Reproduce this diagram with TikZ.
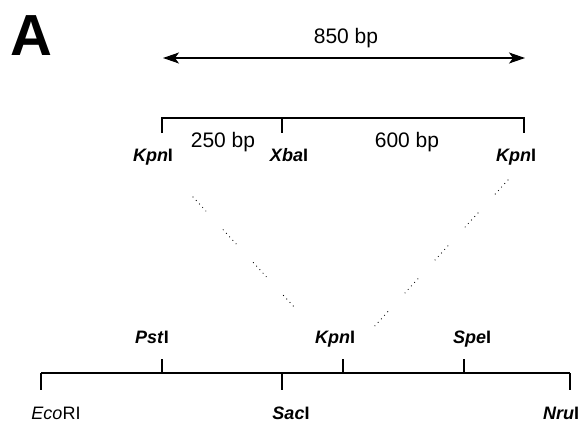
\documentclass[tikz,border=0pt]{standalone}
\usepackage{fontspec}
\setmainfont{Liberation Sans}
\usetikzlibrary{arrows.meta, positioning}

\begin{document}
\begin{tikzpicture}[
    x=1pt, y=-1pt,
    panel/.style={font=\fontsize{58}{60}\selectfont\bfseries, inner sep=0pt},
    bp/.style={font=\fontsize{21}{24}\selectfont, inner sep=0pt, anchor=base},
    site/.style={font=\fontsize{18}{20}\selectfont\bfseries, inner sep=0pt,
                 anchor=base},
    rule/.style={line width=1.2pt},
    span/.style={line width=1.2pt,
                 {Stealth[length=16pt, width=11pt, inset=4pt]}-{Stealth[length=16pt, width=11pt, inset=4pt]}},
    link/.style={line width=1.2pt, line cap=round,
                 dash pattern=on 0pt off 4.75pt on 0pt off 4.75pt on 0pt off 4.75pt
                              on 0pt off 4.75pt on 0pt off 25.6pt},
]
    \useasboundingbox (0,0) rectangle (580,423);

    \node[panel] (A) at (31,36) {A};

    % insert
    \coordinate (ins1) at (163,58);
    \coordinate (ins2) at (525,58);
    \draw[span] (ins1) -- (ins2);
    \node[bp] (lenAll) at (346,43) {850 bp};

    \coordinate (tKpnL) at (162,118);
    \coordinate (tXba) at (282,118);
    \coordinate (tKpnR) at (524,118);
    \draw[rule] (tKpnL) ++(0,15) -- (tKpnL) -- (tKpnR) -- ++(0,15);
    \draw[rule] (tXba) -- ++(0,15);

    \node[bp] (lenA) at (223,147) {250 bp};
    \node[bp] (lenB) at (407,147) {600 bp};

    \node[site] (kpnL) at (153,161) {\textit{Kpn}I};
    \node[site] (xba) at (289,161) {\textit{Xba}I};
    \node[site] (kpnR) at (516,161) {\textit{Kpn}I};

    % vector
    \coordinate (sEco) at (41,373);
    \coordinate (sPst) at (162,373);
    \coordinate (sSac) at (282,373);
    \coordinate (sKpn) at (343,373);
    \coordinate (sSpe) at (464,373);
    \coordinate (sNru) at (570,373);
    \draw[rule] (sEco) -- (sNru);
    \foreach \s in {sPst, sKpn, sSpe}
        \draw[rule] (\s) -- ++(0,-14);
    \foreach \s in {sEco, sSac, sNru}
        \draw[rule] (\s) -- ++(0,17);

    \node[site] (pst) at (152,343) {\textit{Pst}I};
    \node[site] (kpnM) at (335,343) {\textit{Kpn}I};
    \node[site] (spe) at (472,343) {\textit{Spe}I};
    \node[site, font=\fontsize{18}{20}\selectfont] (eco) at (56,419) {\textit{Eco}RI};
    \node[site] (sac) at (291,419) {\textit{Sac}I};
    \node[site] (nru) at (561,419) {\textit{Nru}I};

    % cloning
    \coordinate (dL1) at (193,197);
    \coordinate (dL2) at (296,309);
    \coordinate (dR1) at (508,180);
    \coordinate (dR2) at (373,328);
    \draw[link] (dL1) -- (dL2);
    \draw[link] (dR1) -- (dR2);
\end{tikzpicture}
\end{document}
